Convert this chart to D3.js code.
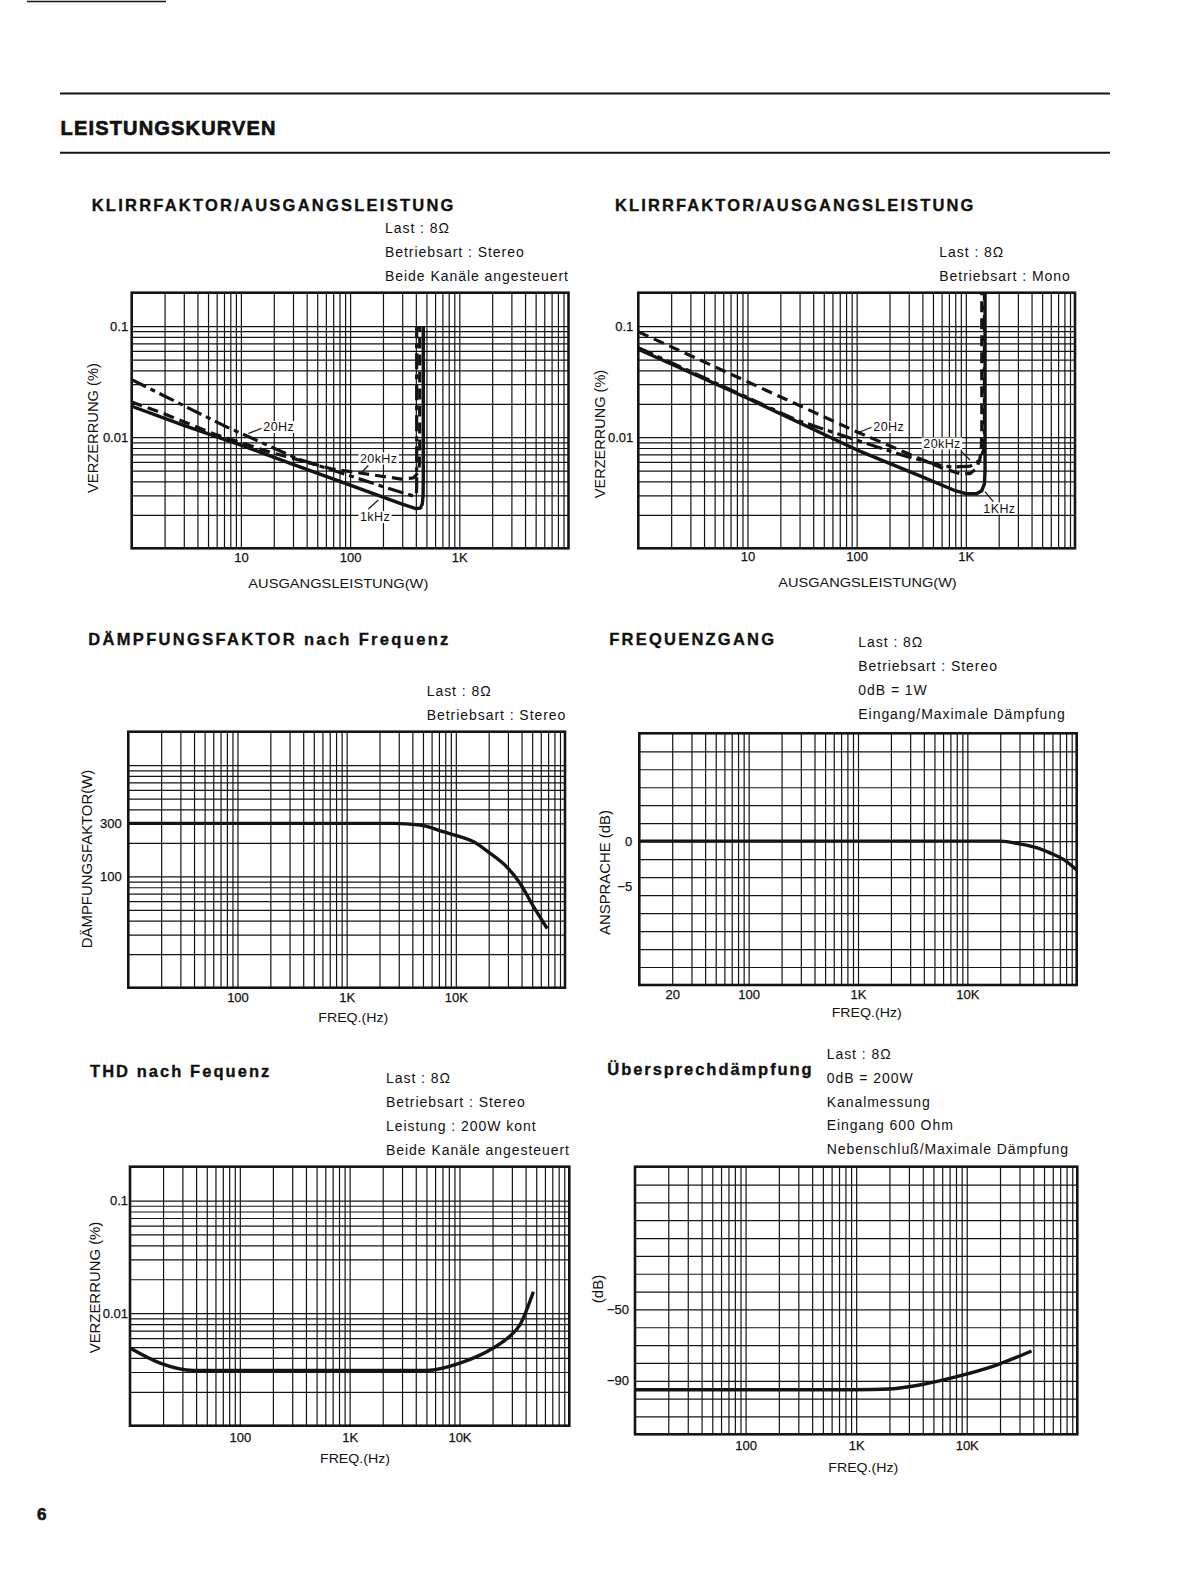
<!DOCTYPE html>
<html><head><meta charset="utf-8">
<script src="https://cdn.jsdelivr.net/npm/d3@7"></script>
<style>
body{margin:0;background:#fff}
svg{display:block}
text{font-family:"Liberation Sans",Arial,Helvetica,sans-serif;fill:#111}
</style></head>
<body><svg id="c" width="1179" height="1576"></svg>
<script>
// ---------------- tick labels ----------------
const powerTicks = [10, 100, 1000];
const powerTickLabels = ["10", "100", "1K"];
const thdTicks = [0.1, 0.01];
const thdTickLabels = ["0.1", "0.01"];
const freqTicks = [100, 1000, 10000];
const freqTickLabels = ["100", "1K", "10K"];
const respFreqTicks = [20, 100, 1000, 10000];
const respFreqTickLabels = ["20", "100", "1K", "10K"];
const dampTicks = [300, 100];
const dampTickLabels = ["300", "100"];
const respTicks = [0, -5];
const respTickLabels = ["0", "\u22125"];
const xtalkTicks = [-50, -90];
const xtalkTickLabels = ["\u221250", "\u221290"];

// ---------------- chart 1: Klirrfaktor / Ausgangsleistung (Stereo) ----------------
const stereo1kHzPower = [1, 3, 10, 30, 100, 300, 400, 440, 458, 466, 468, 468];
const stereo1kHzThd   = [0.019, 0.0128, 0.0085, 0.0057, 0.0037, 0.0025, 0.00228, 0.0023, 0.0025, 0.003, 0.0045, 0.1];
const stereo20HzPower = [1, 7, 33, 206, 370, 396, 405, 407, 407];
const stereo20HzThd   = [0.033, 0.0127, 0.0064, 0.00356, 0.00298, 0.00298, 0.0031, 0.0036, 0.1];
const stereo20kHzPower = [1, 2, 5.7, 18.8, 67, 294, 380, 420, 432, 434, 434];
const stereo20kHzThd   = [0.0208, 0.0162, 0.0107, 0.0073, 0.0052, 0.0042, 0.0043, 0.0048, 0.0058, 0.008, 0.1];

// ---------------- chart 2: Klirrfaktor / Ausgangsleistung (Mono) ----------------
const mono1kHzPower = [1, 10, 100, 400, 800, 1000, 1250, 1400, 1480, 1500, 1500];
const mono1kHzThd   = [0.062, 0.0224, 0.0077, 0.0044, 0.0033, 0.0031, 0.0031, 0.0033, 0.0038, 0.005, 0.2];
const mono20HzPower = [1, 10, 100, 287, 600, 880, 1090, 1250, 1350, 1390, 1400, 1400];
const mono20HzThd   = [0.089, 0.0316, 0.0112, 0.0072, 0.0053, 0.0047, 0.0047, 0.0052, 0.0065, 0.0085, 0.012, 0.2];
const mono20kHzPower = [1, 10, 28, 100, 287, 620, 765, 1100, 1350, 1460, 1480, 1480];
const mono20kHzThd   = [0.064, 0.0228, 0.0143, 0.0094, 0.0067, 0.0055, 0.0054, 0.0055, 0.0062, 0.0078, 0.011, 0.2];

// ---------------- chart 3: Dämpfungsfaktor nach Frequenz ----------------
const dampFreq   = [10, 100, 1000, 2670, 4690, 7670, 10900, 14400, 20500, 29200, 38700, 51200, 68700];
const dampFactor = [300, 300, 300, 300, 290, 253, 228, 206, 162, 122, 87, 54, 34];

// ---------------- chart 4: Frequenzgang ----------------
const respFreq = [10, 1000, 10000, 20000, 30000, 45000, 57000, 75000, 100000];
const respDb   = [0, 0, 0, 0, -0.3, -0.8, -1.3, -2.0, -3.2];

// ---------------- chart 5: THD nach Frequenz ----------------
const thdFreq  = [10, 18.8, 37.7, 100, 1000, 5030, 10100, 20300, 28000, 35600, 47100];
const thdValue = [0.0049, 0.0036, 0.0031, 0.0031, 0.0031, 0.0031, 0.0036, 0.0049, 0.0061, 0.0079, 0.0155];

// ---------------- chart 6: Übersprechdämpfung ----------------
const xtalkFreq = [10, 1000, 2020, 4050, 8100, 18600, 38600];
const xtalkDb   = [-95, -95, -94.6, -92, -87.7, -81.2, -73.3];

// ---------------- texts ----------------
const pageHeading = "LEISTUNGSKURVEN";
const chartTitles = ["KLIRRFAKTOR/AUSGANGSLEISTUNG", "KLIRRFAKTOR/AUSGANGSLEISTUNG",
  "DÄMPFUNGSFAKTOR nach Frequenz", "FREQUENZGANG", "THD nach Fequenz", "Übersprechdämpfung"];
const notes1 = ["Last : 8\u03A9", "Betriebsart : Stereo", "Beide Kanäle angesteuert"];
const notes2 = ["Last : 8\u03A9", "Betriebsart : Mono"];
const notes3 = ["Last : 8\u03A9", "Betriebsart : Stereo"];
const notes4 = ["Last : 8\u03A9", "Betriebsart : Stereo", "0dB = 1W", "Eingang/Maximale Dämpfung"];
const notes5 = ["Last : 8\u03A9", "Betriebsart : Stereo", "Leistung : 200W kont", "Beide Kanäle angesteuert"];
const notes6 = ["Last : 8\u03A9", "0dB = 200W", "Kanalmessung", "Eingang 600 Ohm", "Nebenschluß/Maximale Dämpfung"];

const FONT = '"Liberation Sans",Arial,Helvetica,sans-serif';
const INK = "#141414";
const svg = d3.select("#c");

function logGrid(min, max, includeMax) {
  const out = [];
  for (let e = Math.floor(Math.log10(min)); e <= Math.ceil(Math.log10(max)); e++)
    for (let k = 1; k < 10; k++) {
      const v = +(k * Math.pow(10, e)).toPrecision(6);
      if (v > min * 1.0001 && (v < max * 0.9999 || (includeMax && Math.abs(v - max) < max * 1e-4))) out.push(v);
    }
  return out;
}
function linGrid(min, max, step) {
  const out = [];
  for (let v = min + step; v < max - 1e-9; v += step) out.push(+v.toFixed(6));
  return out;
}

function drawChart(cfg) {
  const g = svg.append("g");
  const x = d3.scaleLog().domain(cfg.xDomain).range([cfg.left, cfg.right]);
  const y = (cfg.yLog ? d3.scaleLog() : d3.scaleLinear()).domain(cfg.yDomain).range([cfg.bottom, cfg.top]);
  const H = cfg.bottom - cfg.top, W = cfg.right - cfg.left;

  // vertical grid
  g.append("g").attr("transform", `translate(0,${cfg.bottom})`)
    .call(d3.axisBottom(x).tickValues(cfg.xGrid).tickSize(-H).tickFormat(""))
    .call(a => a.select(".domain").remove())
    .attr("color", INK)
    .selectAll("line").attr("stroke-width", 1.2);
  // horizontal grid
  g.append("g").attr("transform", `translate(${cfg.left},0)`)
    .call(d3.axisLeft(y).tickValues(cfg.yGrid).tickSize(-W).tickFormat(""))
    .call(a => a.select(".domain").remove())
    .attr("color", INK)
    .selectAll("line").attr("stroke-width", 1.2);
  // frame
  g.append("rect").attr("x", cfg.left).attr("y", cfg.top).attr("width", W).attr("height", H)
    .attr("fill", "none").attr("stroke", INK).attr("stroke-width", 2.6);

  // x tick labels
  const xa = g.append("g").attr("transform", `translate(0,${cfg.bottom})`)
    .call(d3.axisBottom(x).tickValues(cfg.xTicks).tickFormat((d, i) => cfg.xLabels[i]).tickSize(0).tickPadding(cfg.xPad))
    .call(a => a.select(".domain").remove());
  xa.attr("font-family", FONT).attr("font-size", 13).attr("color", INK);
  xa.selectAll("text").attr("stroke", INK).attr("stroke-width", 0.25);
  xa.selectAll("line").remove();
  // y tick labels
  const ya = g.append("g").attr("transform", `translate(${cfg.left},0)`)
    .call(d3.axisLeft(y).tickValues(cfg.yTicks).tickFormat((d, i) => cfg.yLabels[i]).tickSize(0).tickPadding(cfg.yPad))
    .call(a => a.select(".domain").remove());
  ya.attr("font-family", FONT).attr("font-size", 13).attr("color", INK);
  ya.selectAll("text").attr("stroke", INK).attr("stroke-width", 0.25);
  ya.selectAll("line").remove();

  // axis titles
  g.append("text").attr("x", cfg.xTitle[1]).attr("y", cfg.xTitle[2]).attr("text-anchor", "middle")
    .attr("font-size", 13.5).attr("textLength", cfg.xTitle[3]).attr("lengthAdjust", "spacingAndGlyphs").text(cfg.xTitle[0]);
  g.append("text").attr("transform", `translate(${cfg.yTitle[1]},${cfg.yTitle[2]}) rotate(-90)`)
    .attr("text-anchor", "middle").attr("dominant-baseline", "central")
    .attr("font-size", 14).attr("textLength", cfg.yTitle[3]).attr("lengthAdjust", "spacingAndGlyphs").text(cfg.yTitle[0]);

  // curves
  cfg.series.forEach(s => {
    const pts = s.x.map((v, i) => [v, s.y[i]]);
    const line = d3.line().x(d => x(d[0])).y(d => y(d[1])).curve(s.curve || d3.curveLinear);
    g.append("path").attr("d", line(pts)).attr("fill", "none").attr("stroke", INK)
      .attr("stroke-width", s.w || 3.2).attr("stroke-linejoin", "round").attr("stroke-linecap", "butt")
      .attr("stroke-dasharray", s.dash || null);
  });

  // curve labels
  (cfg.labels || []).forEach(l => {
    const lg = g.append("g");
    if (l.leader) lg.append("line").attr("x1", l.leader[0]).attr("y1", l.leader[1]).attr("x2", l.leader[2]).attr("y2", l.leader[3])
      .attr("stroke", INK).attr("stroke-width", 1.2);
    const t = lg.append("text").attr("x", l.x).attr("y", l.y).attr("font-size", 12.5).attr("letter-spacing", 0.4).text(l.text);
    const bb = t.node().getBBox();
    lg.insert("rect", () => t.node()).attr("x", bb.x - 1.5).attr("y", bb.y + 1).attr("width", bb.width + 3).attr("height", bb.height - 2).attr("fill", "#fff");
  });

  // title
  svg.append("text").attr("x", cfg.title[1]).attr("y", cfg.title[2]).attr("font-weight", "bold").attr("font-size", 16.5)
    .attr("stroke", INK).attr("stroke-width", 0.35)
    .attr("textLength", cfg.title[3]).attr("lengthAdjust", "spacing").text(cfg.title[0]);
  // notes
  cfg.notes.lines.forEach((s, i) => {
    svg.append("text").attr("x", cfg.notes.x).attr("y", cfg.notes.y + i * cfg.notes.dy).attr("font-size", 14)
      .attr("letter-spacing", 0.95).text(s);
  });
}

// page furniture
svg.append("line").attr("x1", 27).attr("x2", 166).attr("y1", 1.5).attr("y2", 1.5).attr("stroke", INK).attr("stroke-width", 1.6);
svg.append("line").attr("x1", 60).attr("x2", 1110).attr("y1", 93.5).attr("y2", 93.5).attr("stroke", INK).attr("stroke-width", 2);
svg.append("line").attr("x1", 60).attr("x2", 1110).attr("y1", 152.8).attr("y2", 152.8).attr("stroke", INK).attr("stroke-width", 2);
svg.append("text").attr("x", 60.5).attr("y", 135).attr("font-weight", "bold").attr("font-size", 20)
  .attr("stroke", INK).attr("stroke-width", 0.7)
  .attr("textLength", 215).attr("lengthAdjust", "spacing").text(pageHeading);
svg.append("text").attr("x", 37).attr("y", 1520).attr("font-weight", "bold").attr("font-size", 17)
  .attr("stroke", INK).attr("stroke-width", 0.6).text("6");

const DASH = "11,6";
const DASHDOT = "16,5,5,5";

// chart 1
drawChart({
  left: 131.7, right: 568.5, top: 292.7, bottom: 548.3,
  xDomain: [1, 10000], yDomain: [0.001, 0.2], yLog: true,
  xGrid: logGrid(1, 10000), yGrid: logGrid(0.001, 0.1, true),
  xTicks: powerTicks, xLabels: powerTickLabels, xPad: 4.2,
  yTicks: thdTicks, yLabels: thdTickLabels, yPad: 3.5,
  xTitle: ["AUSGANGSLEISTUNG(W)", 338.3, 588, 180], yTitle: ["VERZERRUNG (%)", 93.3, 428, 130],
  title: [chartTitles[0], 91.7, 210.7, 361.7],
  notes: { x: 385, y: 233.3, dy: 23.7, lines: notes1 },
  series: [
    { x: stereo1kHzPower, y: stereo1kHzThd, w: 3.4 },
    { x: stereo20HzPower, y: stereo20HzThd, dash: DASHDOT },
    { x: stereo20kHzPower, y: stereo20kHzThd, dash: DASH }
  ],
  labels: [
    { text: "20Hz", x: 263.3, y: 431, leader: [248.3, 433.5, 261.7, 428.3] },
    { text: "20kHz", x: 360, y: 462.5, leader: [368.3, 465.5, 360, 474] },
    { text: "1kHz", x: 360, y: 521, leader: [368.3, 509, 378.3, 500] }
  ]
});

// chart 2
drawChart({
  left: 638.3, right: 1075, top: 292.7, bottom: 548.3,
  xDomain: [1, 10000], yDomain: [0.001, 0.2], yLog: true,
  xGrid: logGrid(1, 10000), yGrid: logGrid(0.001, 0.1, true),
  xTicks: powerTicks, xLabels: powerTickLabels, xPad: 3.6,
  yTicks: thdTicks, yLabels: thdTickLabels, yPad: 5,
  xTitle: ["AUSGANGSLEISTUNG(W)", 867.5, 586.7, 178.4], yTitle: ["VERZERRUNG (%)", 600, 434, 128.3],
  title: [chartTitles[1], 615, 210.7, 358.3],
  notes: { x: 939.3, y: 256.7, dy: 24, lines: notes2 },
  series: [
    { x: mono1kHzPower, y: mono1kHzThd, w: 3.4 },
    { x: mono20kHzPower, y: mono20kHzThd, dash: DASHDOT },
    { x: mono20HzPower, y: mono20HzThd, dash: DASH }
  ],
  labels: [
    { text: "20Hz", x: 873.3, y: 431, leader: [856.7, 433.3, 871.7, 427.3] },
    { text: "20kHz", x: 923.3, y: 447.5, leader: [961.7, 451.7, 970, 460] },
    { text: "1KHz", x: 983.3, y: 512.5, leader: [985, 491.7, 993.3, 501.7] }
  ]
});

// chart 3
drawChart({
  left: 128.3, right: 565, top: 731.7, bottom: 987.7,
  xDomain: [10, 100000], yDomain: [10, 2000], yLog: true,
  xGrid: logGrid(10, 100000), yGrid: logGrid(10, 1000, true),
  xTicks: freqTicks, xLabels: freqTickLabels, xPad: 5.2,
  yTicks: dampTicks, yLabels: dampTickLabels, yPad: 6.5,
  xTitle: ["FREQ.(Hz)", 353.3, 1021.5, 70], yTitle: ["DÄMPFUNGSFAKTOR(W)", 87.3, 859, 178.3],
  title: [chartTitles[2], 88.3, 645, 360],
  notes: { x: 426.7, y: 696, dy: 24, lines: notes3 },
  series: [ { x: dampFreq, y: dampFactor, w: 3.4, curve: d3.curveMonotoneX } ]
});

// chart 4
drawChart({
  left: 639.3, right: 1076.7, top: 733.3, bottom: 985,
  xDomain: [10, 100000], yDomain: [-16, 12], yLog: false,
  xGrid: logGrid(10, 100000), yGrid: linGrid(-16, 12, 2),
  xTicks: respFreqTicks, xLabels: respFreqTickLabels, xPad: 5.2,
  yTicks: respTicks, yLabels: respTickLabels, yPad: 7,
  xTitle: ["FREQ.(Hz)", 866.7, 1016.7, 70], yTitle: ["ANSPRACHE (dB)", 605, 872.5, 125],
  title: [chartTitles[3], 609.3, 645, 164.7],
  notes: { x: 858.3, y: 647.3, dy: 24, lines: notes4 },
  series: [ { x: respFreq, y: respDb, w: 3.4, curve: d3.curveMonotoneX } ]
});

// chart 5
drawChart({
  left: 130, right: 569.3, top: 1166.7, bottom: 1425.7,
  xDomain: [10, 100000], yDomain: [0.001, 0.2], yLog: true,
  xGrid: logGrid(10, 100000), yGrid: logGrid(0.001, 0.1, true),
  xTicks: freqTicks, xLabels: freqTickLabels, xPad: 7.2,
  yTicks: thdTicks, yLabels: thdTickLabels, yPad: 2,
  xTitle: ["FREQ.(Hz)", 355, 1463.3, 70], yTitle: ["VERZERRUNG (%)", 95, 1287.5, 131.6],
  title: [chartTitles[4], 90, 1076.7, 179.3],
  notes: { x: 386, y: 1083.3, dy: 23.9, lines: notes5 },
  series: [ { x: thdFreq, y: thdValue, w: 3.4, curve: d3.curveMonotoneX } ]
});

// chart 6
drawChart({
  left: 635, right: 1077.3, top: 1166.7, bottom: 1434.3,
  xDomain: [10, 100000], yDomain: [-120, 30], yLog: false,
  xGrid: logGrid(10, 100000), yGrid: linGrid(-120, 30, 10),
  xTicks: freqTicks, xLabels: freqTickLabels, xPad: 6.8,
  yTicks: xtalkTicks, yLabels: xtalkTickLabels, yPad: 6,
  xTitle: ["FREQ.(Hz)", 863.3, 1471.7, 70], yTitle: ["(dB)", 598.3, 1289, 28.3],
  title: [chartTitles[5], 607.3, 1075, 204.4],
  notes: { x: 826.7, y: 1059, dy: 23.8, lines: notes6 },
  series: [ { x: xtalkFreq, y: xtalkDb, w: 3.4, curve: d3.curveMonotoneX } ]
});
</script></body></html>
